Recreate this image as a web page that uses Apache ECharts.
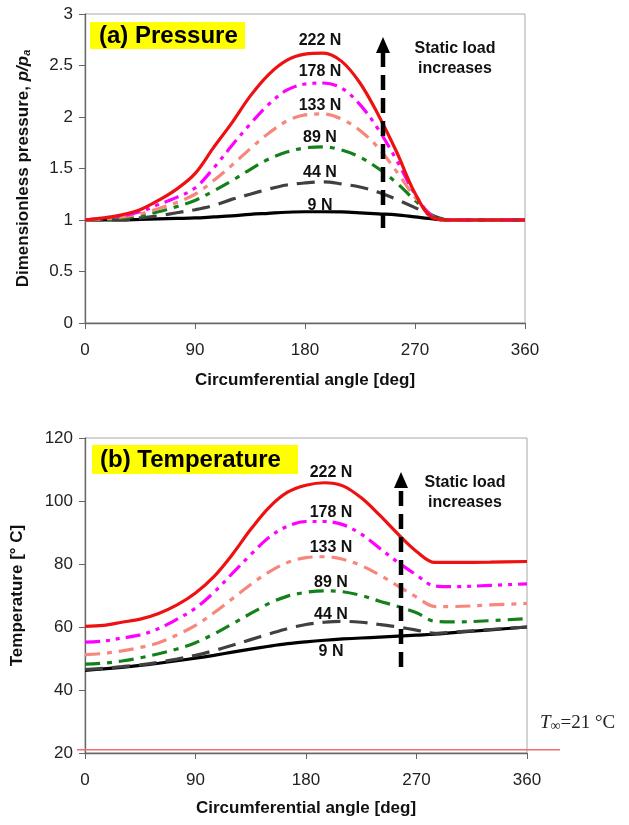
<!DOCTYPE html>
<html lang="en">
<head>
    <meta charset="UTF-8">
    <title>Pressure and temperature vs circumferential angle</title>
    <script src="https://cdn.jsdelivr.net/npm/echarts@6/dist/echarts.min.js"></script>
    <style>
        html, body { margin: 0; padding: 0; background: #fff; }
        #main { width: 629px; height: 825px; }
    </style>
</head>
<body>
    <div id="main"></div>
<script>
    // angle samples [deg]
    var angles = [0, 15, 30, 45, 60, 75, 90, 105, 120, 135, 150, 165, 180, 195, 210, 225, 240, 255, 270, 285, 300, 330, 360];
    var loads = ['9 N', '44 N', '89 N', '133 N', '178 N', '222 N'];
    var xTicks = [0, 90, 180, 270, 360];

    // (a) dimensionless pressure p/pa
    var p9   = [1.00, 1.00, 1.00, 1.005, 1.01, 1.015, 1.02, 1.03, 1.04, 1.055, 1.065, 1.075, 1.08, 1.08, 1.078, 1.07, 1.06, 1.05, 1.03, 1.01, 1.00, 1.00, 1.00];
    var p44  = [1.00, 1.00, 1.00, 1.02, 1.04, 1.07, 1.10, 1.14, 1.20, 1.25, 1.30, 1.34, 1.36, 1.37, 1.35, 1.32, 1.27, 1.20, 1.12, 1.04, 1.00, 1.00, 1.00];
    var p89  = [1.00, 1.00, 1.02, 1.04, 1.08, 1.13, 1.19, 1.28, 1.38, 1.49, 1.59, 1.66, 1.70, 1.71, 1.68, 1.61, 1.50, 1.36, 1.19, 1.04, 1.00, 1.00, 1.00];
    var p133 = [1.00, 1.01, 1.03, 1.06, 1.11, 1.17, 1.25, 1.38, 1.53, 1.69, 1.84, 1.96, 2.02, 2.03, 1.98, 1.87, 1.70, 1.47, 1.22, 1.03, 1.00, 1.00, 1.00];
    var p178 = [1.00, 1.02, 1.04, 1.08, 1.15, 1.22, 1.31, 1.50, 1.72, 1.93, 2.12, 2.26, 2.32, 2.33, 2.28, 2.12, 1.88, 1.58, 1.25, 1.03, 1.00, 1.00, 1.00];
    var p222 = [1.00, 1.02, 1.05, 1.10, 1.19, 1.30, 1.45, 1.70, 1.94, 2.20, 2.41, 2.55, 2.61, 2.62, 2.54, 2.33, 2.02, 1.66, 1.26, 1.02, 1.00, 1.00, 1.00];

    // (b) temperature [degC]
    var t9   = [46.2, 46.7, 47.2, 47.8, 48.5, 49.3, 50.1, 51.0, 52.0, 53.0, 53.9, 54.7, 55.3, 55.8, 56.2, 56.5, 56.8, 57.1, 57.4, 57.7, 58.2, 59.1, 60.0];
    var t44  = [46.5, 46.9, 47.4, 48.0, 48.8, 49.8, 51.0, 52.5, 54.2, 56.0, 57.8, 59.5, 60.8, 61.5, 61.8, 61.5, 60.8, 60.0, 59.0, 58.0, 58.4, 59.2, 60.0];
    var t89  = [48.2, 48.5, 49.2, 50.2, 51.5, 53.0, 55.0, 57.8, 61.0, 64.3, 67.5, 69.8, 71.0, 71.5, 71.2, 70.0, 68.2, 66.5, 64.5, 61.8, 61.6, 62.0, 62.7];
    var t133 = [51.2, 51.6, 52.4, 53.5, 55.0, 57.5, 60.5, 64.5, 69.0, 73.5, 77.5, 80.5, 82.0, 82.3, 81.5, 79.5, 76.5, 73.0, 69.5, 66.5, 66.5, 67.0, 67.5];
    var t178 = [55.2, 55.5, 56.5, 57.5, 59.5, 62.5, 66.0, 71.0, 77.0, 83.0, 88.5, 92.0, 93.5, 93.5, 92.5, 89.5, 85.0, 80.5, 76.5, 73.0, 72.8, 73.2, 73.7];
    var t222 = [60.2, 60.5, 61.5, 62.5, 64.3, 67.0, 70.8, 76.0, 83.0, 91.0, 98.0, 102.8, 105.0, 105.8, 104.8, 101.0, 95.5, 89.5, 84.0, 80.5, 80.5, 80.6, 80.8];

    var tAmbient = 21;

    var font = "'Liberation Sans', Arial, sans-serif";
    var serif = "'Liberation Serif', 'Times New Roman', serif";

    var styles = [
        { color: '#000000', dash: 'solid' },
        { color: '#404040', dash: [18, 9] },
        { color: '#14801a', dash: [15, 7, 5, 7] },
        { color: '#f7877c', dash: [15, 7, 5, 7] },
        { color: '#ff00ff', dash: [15, 6, 4, 6, 4, 6] },
        { color: '#ee1111', dash: 'solid' }
    ];

    function pairs(vals) {
        return angles.map(function (a, i) { return [a, vals[i]]; });
    }

    var pressure = [p9, p44, p89, p133, p178, p222];
    var temperature = [t9, t44, t89, t133, t178, t222];

    var series = [];
    for (var k = 0; k < loads.length; k++) {
        [pressure, temperature].forEach(function (set, g) {
            series.push({
                name: loads[k],
                type: 'line',
                xAxisIndex: g,
                yAxisIndex: g,
                data: pairs(set[k]),
                showSymbol: false,
                smooth: 0.35,
                z: 2 + k,
                lineStyle: { color: styles[k].color, width: 3.2, type: styles[k].dash }
            });
        });
    }

    function xAxisFor(g, gap, margin) {
        return {
            gridIndex: g,
            type: 'value',
            min: xTicks[0],
            max: xTicks[xTicks.length - 1],
            interval: 90,
            name: 'Circumferential angle [deg]',
            nameLocation: 'middle',
            nameGap: gap,
            nameTextStyle: { fontFamily: font, fontSize: 17, fontWeight: 'bold', color: '#111' },
            axisLine: { lineStyle: { color: '#666', width: 1.3 } },
            axisTick: { show: true, length: 6, lineStyle: { color: '#666' } },
            axisLabel: { fontFamily: font, fontSize: 17, color: '#222', margin: margin },
            splitLine: { show: false }
        };
    }

    var option = {
        animation: false,
        backgroundColor: '#fff',
        grid: [
            { left: 85, top: 14, width: 440, height: 309, show: true, borderColor: '#a8a8a8', borderWidth: 1 },
            { left: 85, top: 438, width: 442, height: 315, show: true, borderColor: '#a8a8a8', borderWidth: 1 }
        ],
        xAxis: [xAxisFor(0, 49, 19), xAxisFor(1, 47, 19)],
        yAxis: [
            {
                gridIndex: 0, type: 'value', min: 0, max: 3, interval: 0.5,
                name: '{n|Dimensionless pressure, }{i|p/p}{s|a}',
                nameLocation: 'middle', nameGap: 53, nameRotate: 90,
                nameTextStyle: {
                    fontFamily: font, fontSize: 17, fontWeight: 'bold', color: '#111',
                    rich: {
                        n: { fontFamily: font, fontSize: 17, fontWeight: 'bold', color: '#111' },
                        i: { fontFamily: font, fontSize: 17, fontWeight: 'bold', fontStyle: 'italic', color: '#111' },
                        s: { fontFamily: font, fontSize: 11, fontWeight: 'bold', fontStyle: 'italic', color: '#111', verticalAlign: 'bottom', padding: [5, 0, 0, 0] }
                    }
                },
                axisLine: { show: true, lineStyle: { color: '#666', width: 1.3 } },
                axisTick: { show: true, length: 6, lineStyle: { color: '#666' } },
                axisLabel: { fontFamily: font, fontSize: 17, color: '#222', margin: 12 },
                splitLine: { show: false }
            },
            {
                gridIndex: 1, type: 'value', min: 20, max: 120, interval: 20,
                name: 'Temperature [° C]',
                nameLocation: 'middle', nameGap: 59, nameRotate: 90,
                nameTextStyle: { fontFamily: font, fontSize: 17, fontWeight: 'bold', color: '#111' },
                axisLine: { show: true, lineStyle: { color: '#666', width: 1.3 } },
                axisTick: { show: true, length: 6, lineStyle: { color: '#666' } },
                axisLabel: { fontFamily: font, fontSize: 17, color: '#222', margin: 12 },
                splitLine: { show: false }
            }
        ],
        series: series
    };

    var myChart = echarts.init(document.getElementById('main'));
    myChart.setOption(option);

    // annotations
    var g = [];
    function label(txt, x, y, size) {
        g.push({ type: 'text', x: x, y: y, z: 20,
            style: { text: txt, fill: '#111', font: 'bold ' + (size || 16) + 'px ' + font, align: 'center', verticalAlign: 'middle' } });
    }
    function arrow(x, tip, bottom) {
        g.push({ type: 'line', z: 19, shape: { x1: x, y1: bottom, x2: x, y2: tip + 14 },
            style: { stroke: '#000', lineWidth: 4.5, lineDash: [15, 8] } });
        g.push({ type: 'polygon', z: 19, shape: { points: [[x - 7, tip + 16], [x + 7, tip + 16], [x, tip]] },
            style: { fill: '#000' } });
    }

    // panel tags
    g.push({ type: 'rect', z: 18, shape: { x: 90, y: 22, width: 155, height: 27 }, style: { fill: '#ffff00' } });
    g.push({ type: 'text', z: 20, x: 99, y: 36, style: { text: '(a) Pressure', fill: '#000', font: 'bold 24px ' + font, verticalAlign: 'middle' } });
    g.push({ type: 'rect', z: 18, shape: { x: 92, y: 445, width: 206, height: 29 }, style: { fill: '#ffff00' } });
    g.push({ type: 'text', z: 20, x: 100, y: 460, style: { text: '(b) Temperature', fill: '#000', font: 'bold 24px ' + font, verticalAlign: 'middle' } });

    var topY = [206, 173, 138, 106, 72, 41];
    var botY = [652, 615, 583, 548, 513, 473];
    for (var i = 0; i < loads.length; i++) {
        label(loads[i], 320, topY[i]);
        label(loads[i], 331, botY[i]);
    }

    label('Static load', 455, 49);
    label('increases', 455, 69);
    label('Static load', 465, 483);
    label('increases', 465, 503);

    arrow(383, 37, 228);
    arrow(401, 472, 667);

    // ambient temperature line
    var yAmb = myChart.convertToPixel({ yAxisIndex: 1 }, tAmbient);
    g.push({ type: 'line', z: 10, shape: { x1: 77, y1: yAmb, x2: 560, y2: yAmb },
        style: { stroke: '#ee7070', lineWidth: 1.5 } });
    g.push({ type: 'text', z: 20, x: 540, y: 723, style: {
        text: '{i|T}{s|∞}{n|=21 °C}', verticalAlign: 'middle',
        rich: {
            i: { fontFamily: serif, fontSize: 19, fontStyle: 'italic', fill: '#222' },
            s: { fontFamily: serif, fontSize: 14, fill: '#222', verticalAlign: 'bottom', padding: [6, 0, 0, 0] },
            n: { fontFamily: serif, fontSize: 19, fill: '#222' }
        } } });

    myChart.setOption({ graphic: g });
</script>
</body>
</html>
